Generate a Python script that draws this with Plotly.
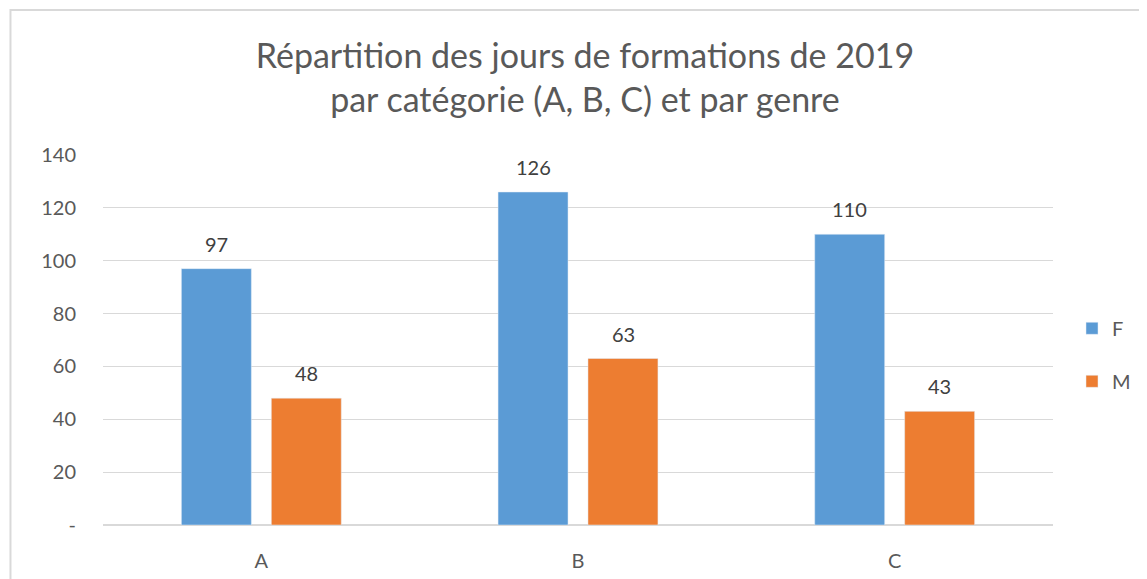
import plotly.graph_objects as go

# ---------------------------
# Data
# ---------------------------
categories = ["A", "B", "C"]
femmes = [97, 126, 110]
hommes = [48, 63, 43]
y_ticks = [0, 20, 40, 60, 80, 100, 120, 140]
y_tick_labels = ["-", "20", "40", "60", "80", "100", "120", "140"]

blue = "#5B9BD5"
orange = "#ED7D31"
grey_text = "#595959"
font_family = "Lato, 'Open Sans', sans-serif"

fig = go.Figure()
fig.add_trace(go.Bar(x=categories, y=femmes, name="F", marker_color=blue,
                     legendgroup="F"))
fig.add_trace(go.Bar(x=categories, y=hommes, name="M", marker_color=orange,
                     legendgroup="M"))

# data labels above each bar (bars sit 45px either side of the category centre)
for values, shift in [(femmes, -45), (hommes, 45)]:
    for cat, val in zip(categories, values):
        fig.add_annotation(
            x=cat, y=val, text=str(val), showarrow=False,
            xshift=shift, yshift=11, yanchor="bottom",
            font=dict(size=20, color="#404040", family=font_family),
        )

fig.update_layout(
    width=1147, height=579,
    margin=dict(l=95, r=102, t=147, b=62, autoexpand=False),
    paper_bgcolor="white", plot_bgcolor="white",
    font=dict(family=font_family, color=grey_text, size=20),
    title=dict(
        text="Répartition des jours de formations de 2019<br>par catégorie (A, B, C) et par genre",
        x=0.503, xanchor="center", y=0.897, yanchor="top",
        font=dict(size=34, color=grey_text, family=font_family),
    ),
    barmode="group", bargap=0.432, bargroupgap=0.222,
    showlegend=True,
    legend=dict(
        x=1.02, y=0.46, xanchor="left", yanchor="middle",
        font=dict(size=20, color=grey_text), tracegroupgap=24,
        bgcolor="rgba(0,0,0,0)",
    ),
)

fig.update_xaxes(
    showgrid=False, showline=True, linecolor="#d9d9d9", linewidth=1,
    ticks="", ticklabelstandoff=18,
    tickfont=dict(size=20, color=grey_text),
)
fig.update_yaxes(
    range=[0, 140], tickvals=y_ticks, ticktext=y_tick_labels,
    showgrid=True, gridcolor="#d9d9d9", gridwidth=1,
    zeroline=True, zerolinecolor="#d9d9d9",
    showline=False, ticks="", ticklabelstandoff=26,
    tickfont=dict(size=20, color=grey_text),
)

# chart border, like the Excel frame
fig.add_shape(
    type="rect", xref="paper", yref="paper",
    x0=-0.0974, x1=1.2, y0=-0.3, y1=1.392,
    line=dict(color="#d9d9d9", width=2), fillcolor="rgba(0,0,0,0)",
    layer="below",
)

fig.write_html("out.html")
